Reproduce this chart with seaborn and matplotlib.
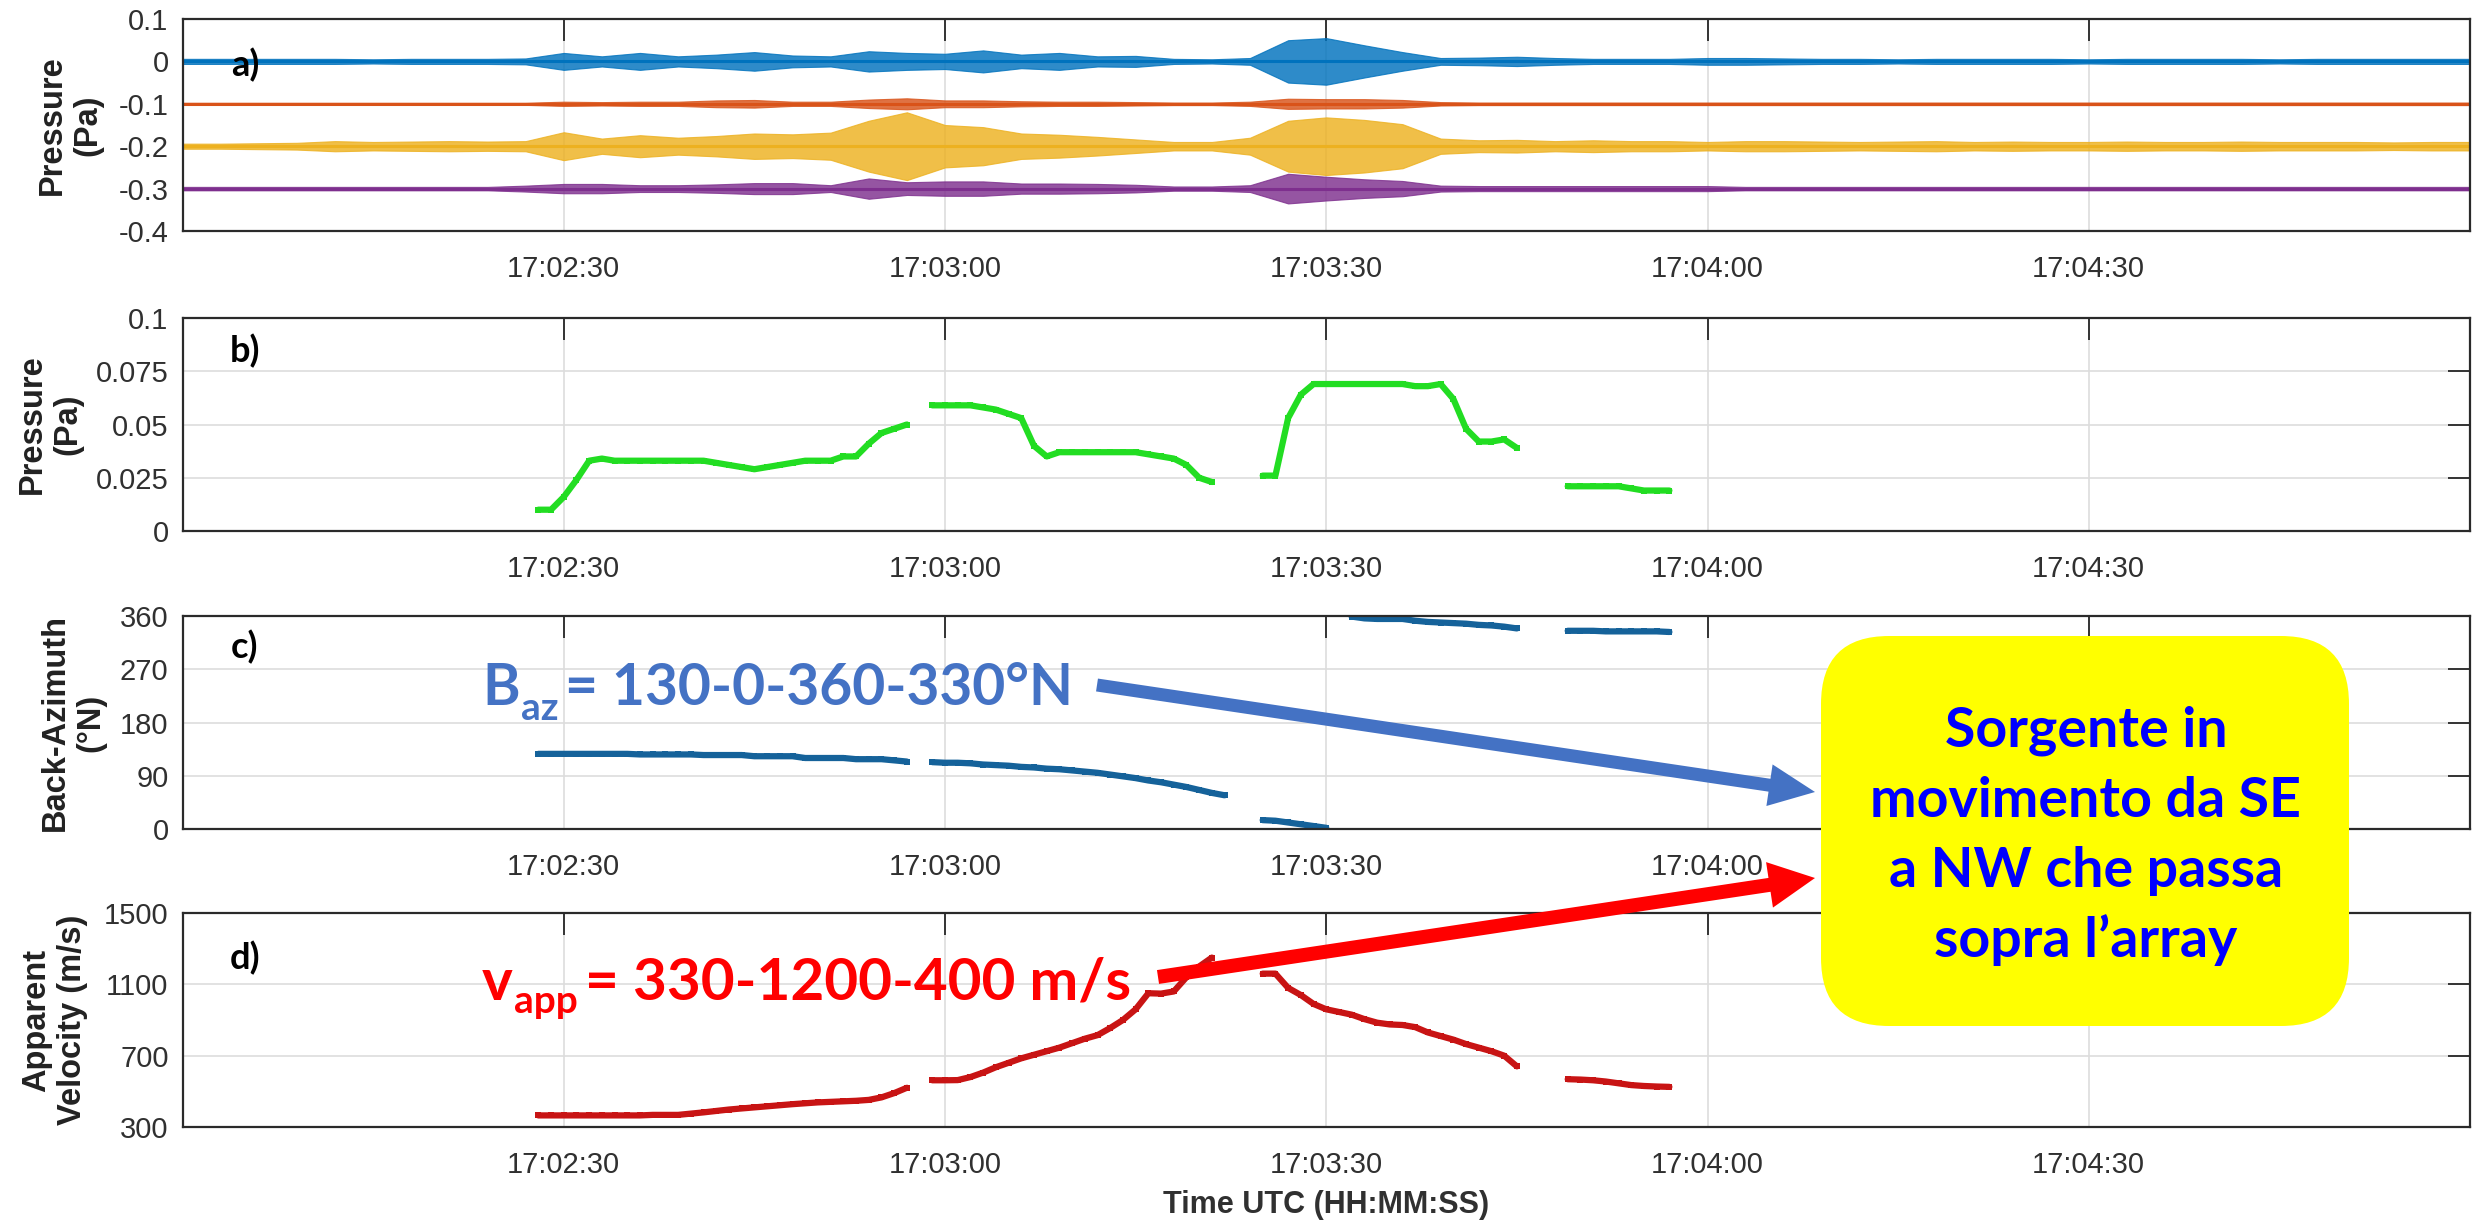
import numpy as np
import matplotlib as mpl
mpl.use('Agg')

import matplotlib.pyplot as plt
from matplotlib.patches import FancyArrow, FancyBboxPatch
from matplotlib.ticker import FuncFormatter
import seaborn as sns
import pandas as pd

nan = np.nan

# figure size in pixels (dpi 100)
W, H = 2478, 1225

# ---- panel a: waveform envelopes (half amplitude, mPa) every 3 s from 17:02:00
wave_sec = list(range(0, 181, 3))
blue_env = [6, 6, 6, 6, 6, 5, 6, 6, 6, 7, 20, 12, 20, 12, 16, 22, 14, 12, 24, 20,
            18, 26, 16, 20, 12, 13, 6, 5, 8, 50, 55, 38, 22, 8, 9, 11, 8, 6, 6, 6,
            8, 8, 7, 6, 6, 5, 6, 6, 6, 6, 5, 6, 6, 6, 6, 5, 6, 6, 6, 6, 6]
red_env = [2.5, 2.5, 2.5, 2.5, 2.5, 2.5, 2.5, 2.5, 2.5, 2.5, 5, 4, 5, 5, 8, 9, 5, 5, 10, 13,
           8, 8, 6, 5, 5, 4, 3, 3, 5, 12, 11, 11, 9, 4, 3, 3, 3, 3, 3, 3,
           3, 3, 3, 3, 3, 3, 3, 3, 3, 3, 3, 3, 3, 3, 3, 3, 3, 3, 3, 3, 3]
yellow_env = [6, 6, 7, 8, 12, 10, 11, 12, 11, 12, 33, 18, 26, 20, 24, 30, 28, 32, 60, 80,
              50, 45, 30, 27, 22, 16, 10, 10, 20, 60, 68, 62, 52, 18, 14, 15, 12, 14, 12, 12,
              10, 12, 12, 11, 10, 11, 12, 10, 11, 10, 10, 11, 10, 10, 11, 10, 10, 10, 9, 10, 10]
purple_env = [4, 4, 4, 4, 4, 4, 4, 4, 4, 7, 11, 11, 8, 8, 10, 13, 13, 8, 24, 15,
              17, 17, 12, 12, 11, 9, 5, 5, 8, 35, 28, 22, 18, 7, 6, 6, 6, 6, 6, 6,
              6, 4, 4, 4, 4, 4, 4, 4, 4, 4, 4, 4, 4, 4, 4, 4, 4, 4, 4, 4, 4]
wave_offsets = [0.0, -0.1, -0.2, -0.3]
wave_colors = ['#0072BD', '#D95319', '#EDB120', '#7E2F8E']

# ---- panels b, c, d: one value per second from 17:02:28
sec_bcd = list(range(28, 118))
pressure_b = [
    0.010, 0.010, 0.016, 0.024, 0.033, 0.034, 0.033, 0.033, 0.033, 0.033,
    0.033, 0.033, 0.033, 0.033, 0.032, 0.031, 0.030, 0.029, 0.030, 0.031,
    0.032, 0.033, 0.033, 0.033, 0.035, 0.035, 0.041, 0.046, 0.048, 0.050,
    nan, 0.059, 0.059, 0.059, 0.059, 0.058, 0.057, 0.055, 0.053, 0.040,
    0.035, 0.037, 0.037, 0.037, 0.037, 0.037, 0.037, 0.037, 0.036, 0.035,
    0.034, 0.031, 0.025, 0.023, nan, nan, nan, 0.026, 0.026, 0.053,
    0.064, 0.069, 0.069, 0.069, 0.069, 0.069, 0.069, 0.069, 0.069, 0.068,
    0.068, 0.069, 0.062, 0.048, 0.042, 0.042, 0.043, 0.039, nan, nan,
    nan, 0.021, 0.021, 0.021, 0.021, 0.021, 0.020, 0.019, 0.019, 0.019]
baz_c = [
    127, 127, 127, 127, 127, 127, 127, 127, 126, 126,
    126, 126, 126, 125, 125, 125, 125, 123, 123, 123,
    123, 120, 120, 120, 120, 118, 118, 118, 116, 114,
    nan, 113, 112, 112, 111, 109, 108, 107, 105, 104,
    102, 101, 99, 97, 95, 92, 89, 86, 82, 79,
    75, 71, 66, 61, 57, nan, nan, 15, 14, 11,
    8, 5, 2, nan, 359, 356, 355, 355, 355, 352,
    350, 349, 348, 347, 345, 344, 342, 339, nan, nan,
    nan, 335, 335, 335, 334, 334, 334, 334, 334, 333]
vel_d = [
    365, 365, 365, 365, 365, 365, 365, 365, 365, 368,
    368, 368, 375, 382, 390, 398, 404, 410, 416, 422,
    428, 433, 438, 441, 444, 447, 452, 466, 490, 520,
    nan, 562, 562, 563, 580, 605, 635, 660, 685, 705,
    725, 745, 770, 795, 815, 855, 900, 960, 1050, 1048,
    1060, 1140, 1200, 1250, nan, nan, nan, 1160, 1160, 1080,
    1040, 990, 960, 945, 930, 905, 885, 875, 872, 860,
    830, 810, 790, 765, 745, 725, 700, 640, nan, nan,
    nan, 568, 566, 562, 555, 545, 535, 530, 527, 525]

# ticks and labels
time_ticks = [30, 60, 90, 120, 150]
yticks_a = [-0.4, -0.3, -0.2, -0.1, 0, 0.1]
ylabels_a = ['-0.4', '-0.3', '-0.2', '-0.1', '0', '0.1']
yticks_b = [0, 0.025, 0.05, 0.075, 0.1]
ylabels_b = ['0', '0.025', '0.05', '0.075', '0.1']
yticks_c = [0, 90, 180, 270, 360]
yticks_d = [300, 700, 1100, 1500]
panel_names = ['a)', 'b)', 'c)', 'd)']
ylab_texts = ['Pressure\n(Pa)', 'Pressure\n(Pa)', 'Back-Azimuth\n(°N)', 'Apparent\nVelocity (m/s)']

box_lines = ['Sorgente in', 'movimento da SE', 'a NW che passa', 'sopra l\u2019array']

sns.set_style("white")
plt.rcParams['font.family'] = ['Liberation Sans', 'DejaVu Sans']
plt.rcParams['axes.unicode_minus'] = False

fig = plt.figure(figsize=(W / 100, H / 100), dpi=100)
fig.patch.set_facecolor('white')

# axes boxes in pixels: left, top, right, bottom
rects = [(182.5, 19, 2470, 231), (182.5, 318, 2470, 531),
         (182.5, 616, 2470, 829), (182.5, 913, 2470, 1127)]
axes = []
for (l, t, r, b) in rects:
    axes.append(fig.add_axes([l / W, 1 - b / H, (r - l) / W, (b - t) / H]))


def seg_frame(sec, vals):
    df = pd.DataFrame({'sec': sec, 'val': vals})
    df['seg'] = df['val'].isna().cumsum()
    return df.dropna()


def fmt_time(s, _):
    s = int(round(s))
    return "17:%02d:%02d" % (2 + s // 60, s % 60)


def fmt_time_hidden(s, pos):
    # panel c: the 17:04:30 label is covered by the yellow note box
    if int(round(s)) == 150:
        return ''
    return fmt_time(s, pos)


# panel a: envelope band plus a solid core trace
ax = axes[0]
for env, off, col in zip([blue_env, red_env, yellow_env, purple_env], wave_offsets, wave_colors):
    env = np.array(env) / 1000.0
    ax.fill_between(wave_sec, off - env, off + env, color=col, lw=0.8, edgecolor=col, alpha=0.82)
    sns.lineplot(x=wave_sec, y=[off] * len(wave_sec), color=col, lw=2.2, ax=ax)

# panels b, c, d
for ax, vals, col in zip(axes[1:], [pressure_b, baz_c, vel_d], ['#22DD22', '#15629A', '#C81414']):
    df = seg_frame(sec_bcd, vals)
    sns.lineplot(data=df, x='sec', y='val', units='seg', estimator=None, color=col,
                 lw=4.5, marker='s', markersize=4, markeredgewidth=0, ax=ax)

ylims = [(-0.4, 0.1), (0, 0.1), (0, 360), (300, 1500)]
yticks = [yticks_a, yticks_b, yticks_c, yticks_d]
ylabels = [ylabels_a, ylabels_b, [str(v) for v in yticks_c], [str(v) for v in yticks_d]]
lab_x = [-0.0492, -0.058, -0.0479, -0.0557]
name_y = [0.783, 0.845, 0.854, 0.79]

for i, ax in enumerate(axes):
    ax.set_xlim(0, 180)
    ax.set_ylim(*ylims[i])
    ax.set_xticks(time_ticks)
    ax.xaxis.set_major_formatter(FuncFormatter(fmt_time_hidden if i == 2 else fmt_time))
    ax.set_yticks(yticks[i])
    ax.set_yticklabels(ylabels[i])
    ax.tick_params(direction='in', length=16, width=1.3, top=True, right=True,
                   labelsize=21, colors='#262626', labelcolor='#303030')
    ax.tick_params(axis='x', pad=17)
    ax.tick_params(axis='y', pad=10)
    if i == 0:
        ax.grid(True, axis='x', color='#dddddd', lw=1.2)
    else:
        ax.grid(True, color='#dddddd', lw=1.2)
    ax.set_axisbelow(True)
    for sp in ax.spines.values():
        sp.set_color('#2a2a2a')
        sp.set_linewidth(1.6)
    ax.set_xlabel('')
    ax.xaxis.label.set_visible(False)
    lab = ax.set_ylabel(ylab_texts[i], fontsize=23.5, fontweight='bold', color='#222222')
    lab.set_verticalalignment('center')
    ax.yaxis.set_label_coords(lab_x[i], 0.5)
    ax.text(0.0273, name_y[i], panel_names[i], transform=ax.transAxes, fontsize=26,
            fontweight='bold', family='Lato', ha='center', va='center', color='black')

axes[3].xaxis.label.set_visible(True)
axes[3].set_xlabel('Time UTC (HH:MM:SS)', fontsize=22, fontweight='bold', color='#303030', labelpad=8)

# annotation arrows (inch coordinates, 100 px per inch)
tr = fig.dpi_scale_trans
def arrow(x0, y0, x1, y1, col, w, hw, hl):
    a = FancyArrow(x0 / 100, (H - y0) / 100, (x1 - x0) / 100, (y0 - y1) / 100,
                   width=w, head_width=hw, head_length=hl, length_includes_head=True,
                   transform=tr, color=col, lw=0, zorder=4)
    fig.add_artist(a)

arrow(1097, 685, 1815, 792, '#4472C4', 0.13, 0.42, 0.46)
arrow(1158, 977, 1815, 878, '#FF0000', 0.14, 0.46, 0.46)

box = FancyBboxPatch((18.21, (H - 1026) / 100), 5.28, 3.90,
                     boxstyle="round,pad=0,rounding_size=0.68", transform=tr,
                     facecolor='#FFFF00', edgecolor='none', zorder=5)
fig.add_artist(box)
for k, line in enumerate(box_lines):
    fig.text(2086 / W, 1 - (747 + 70 * k) / H, line, fontsize=40, fontweight='bold',
             family='Lato', color='#0000FF', ha='center', va='baseline', zorder=6)

renderer = fig.canvas.get_renderer()
def chain(x, base, pieces, col):
    for s, size, drop, gap in pieces:
        t = fig.text(x / W, 1 - (base + drop) / H, s, fontsize=size, fontweight='bold',
                     family='Lato', color=col, ha='left', va='baseline', zorder=7)
        x = t.get_window_extent(renderer).x1 + gap

chain(482, 705, [('B', 41, 0, 1), ('az', 28, 15, 7), ('= 130-0-360-330°N', 41, 0, 0)], '#4472C4')
chain(482, 1000, [('v', 42, 0, 1), ('app', 28, 13, 7), ('= 330-1200-400 m/s', 42, 0, 0)], '#FF0000')

plt.savefig('out.png', dpi=100, facecolor='white')
plt.close()
